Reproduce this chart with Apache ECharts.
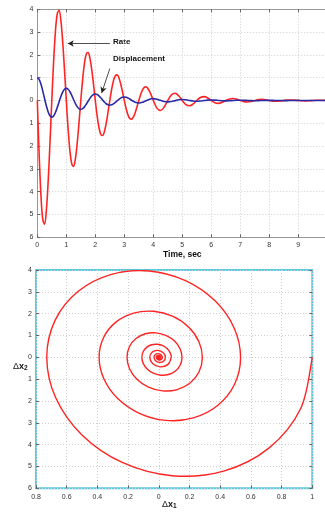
<!DOCTYPE html>
<html><head><meta charset="utf-8">
<script src="https://cdn.jsdelivr.net/npm/echarts@6/dist/echarts.min.js"></script>
<style>html,body{margin:0;padding:0;background:#fff}#c{width:325px;height:512px}</style>
</head><body><div id="c"></div>
<script>
// time samples (s)
const time = [0,0.0625,0.125,0.1875,0.25,0.3125,0.375,0.4375,0.5,0.5625,0.625,0.6875,0.75,0.8125,0.875,0.9375,
1,1.0625,1.125,1.1875,1.25,1.3125,1.375,1.4375,1.5,1.5625,1.625,1.6875,1.75,1.8125,1.875,1.9375,
2,2.0625,2.125,2.1875,2.25,2.3125,2.375,2.4375,2.5,2.5625,2.625,2.6875,2.75,2.8125,2.875,2.9375,
3,3.0625,3.125,3.1875,3.25,3.3125,3.375,3.4375,3.5,3.5625,3.625,3.6875,3.75,3.8125,3.875,3.9375,
4,4.125,4.25,4.375,4.5,4.625,4.75,4.875,5,5.125,5.25,5.375,5.5,5.625,5.75,5.875,
6,6.125,6.25,6.375,6.5,6.625,6.75,6.875,7,7.125,7.25,7.375,7.5,7.625,7.75,7.875,
8,8.125,8.25,8.375,8.5,8.625,8.75,8.875,9,9.125,9.25,9.375,9.5,9.625,9.75,9.875,10];
// displacement Δx1
const displacement = [1,0.9252,0.7191,0.4224,0.0857,-0.2382,-0.5024,-0.6723,-0.7298,-0.6751,-0.5248,-0.3083,-0.0625,0.1738,0.3666,0.4906,
0.5326,0.4927,0.3830,0.2250,0.0456,-0.1268,-0.2676,-0.3580,-0.3887,-0.3596,-0.2795,-0.1642,-0.0333,0.0926,0.1952,0.2613,
0.2837,0.2624,0.2040,0.1198,0.0243,-0.0676,-0.1425,-0.1906,-0.2070,-0.1915,-0.1488,-0.0875,-0.0177,0.0493,0.1040,0.1392,
0.1511,0.1397,0.1086,0.0638,0.0129,-0.0360,-0.0759,-0.1016,-0.1103,-0.1020,-0.0793,-0.0466,-0.0094,0.0262,0.0554,0.0741,
0.0805,0.0579,0.0069,-0.0405,-0.0587,-0.0422,-0.0050,0.0295,0.0429,0.0308,0.0037,-0.0216,-0.0313,-0.0225,-0.0027,0.0157,
0.0228,0.0164,0.0020,-0.0115,-0.0167,-0.0120,-0.0014,0.0084,0.0122,0.0087,0.0010,-0.0061,-0.0089,-0.0064,-0.0008,0.0045,
0.0065,0.0047,0.0006,-0.0032,-0.0047,-0.0034,-0.0004,0.0024,0.0035,0.0025,0.0003,-0.0017,-0.0025,-0.0018,-0.0002,0.0013,0.0018];
// rate Δx2
const rate = [0,-2.335,-4.148,-5.211,-5.422,-4.816,-3.544,-1.844,0,1.704,3.028,3.803,3.957,3.515,2.586,1.346,
0,-1.244,-2.209,-2.775,-2.888,-2.565,-1.888,-0.982,0,0.908,1.613,2.025,2.108,1.872,1.377,0.717,
0,-0.662,-1.177,-1.478,-1.538,-1.366,-1.005,-0.523,0,0.483,0.859,1.079,1.122,0.997,0.734,0.382,
0,-0.353,-0.627,-0.788,-0.819,-0.728,-0.535,-0.279,0,0.257,0.457,0.575,0.598,0.531,0.391,0.203,
0,-0.334,-0.437,-0.285,0,0.244,0.319,0.208,0,-0.178,-0.232,-0.152,0,0.130,0.169,0.111,
0,-0.095,-0.124,-0.081,0,0.069,0.090,0.059,0,-0.050,-0.066,-0.043,0,0.037,0.048,0.031,
0,-0.027,-0.035,-0.023,0,0.020,0.025,0.017,0,-0.014,-0.018,-0.012,0,0.010,0.013,0.009,0];

const topXLabels = ['0','1','2','3','4','5','6','7','8','9',''];
const topYLabels = ['6','5','4','3','2','1','0','1','2','3','4'];
const botXLabels = ['0.8','0.6','0.4','0.2','0','0.2','0.4','0.6','0.8','1'];
const botYLabels = ['6','5','4','3','2','1','0','1','2','3','4'];

const rateSeries = time.map((t,i)=>[t, rate[i]]);
const dispSeries = time.map((t,i)=>[t, displacement[i]]);
const phase = time.map((t,i)=>[displacement[i], rate[i]]);

const FONT = '"Liberation Sans", Arial, sans-serif';
const lab = {fontSize:7, color:'#333', fontFamily:FONT};
const split = {show:true, lineStyle:{color:'#cfcfcf', type:[1,2], width:1}};
const tick = {show:true, inside:true, length:3, lineStyle:{color:'#666'}};

// phase curve drawn through the cartesian scales (api.coord) as a Catmull-Rom path
function renderPhase(params, api) {
  if (params.dataIndex !== 0) return null;
  const pts = phase.map(p => api.coord(p));
  let d = 'M' + pts[0][0] + ' ' + pts[0][1];
  for (let i = 0; i < pts.length - 1; i++) {
    const p0 = pts[Math.max(i - 1, 0)], p1 = pts[i], p2 = pts[i + 1], p3 = pts[Math.min(i + 2, pts.length - 1)];
    const c1x = p1[0] + (p2[0] - p0[0]) / 6, c1y = p1[1] + (p2[1] - p0[1]) / 6;
    const c2x = p2[0] - (p3[0] - p1[0]) / 6, c2y = p2[1] - (p3[1] - p1[1]) / 6;
    d += ' C' + c1x + ' ' + c1y + ' ' + c2x + ' ' + c2y + ' ' + p2[0] + ' ' + p2[1];
  }
  return {type:'path', shape:{pathData:d}, style:{fill:'none', stroke:'#ff2424', lineWidth:1.4}};
}

const chart = echarts.init(document.getElementById('c'), null, {renderer:'canvas'});
chart.setOption({
  animation:false,
  backgroundColor:'#fff',
  grid:[
    {left:37.3, top:9.3, width:290, height:228, show:false, containLabel:false, outerBoundsMode:'none'},
    {left:36, top:270, width:276.3, height:218.3, show:true, borderColor:'#5ec8dc', borderWidth:2, containLabel:false, outerBoundsMode:'none'}
  ],
  xAxis:[
    {gridIndex:0, type:'value', min:0, max:10, interval:1,
     axisLine:{show:true, onZero:false, lineStyle:{color:'#999'}}, axisTick:tick,
     axisLabel:Object.assign({margin:4, formatter:v=>topXLabels[Math.round(v)]}, lab), splitLine:split},
    {gridIndex:1, type:'value', min:-0.8, max:1, interval:0.2,
     axisLine:{show:false, onZero:false}, axisTick:tick,
     axisLabel:Object.assign({margin:5, formatter:v=>botXLabels[Math.round((v+0.8)/0.2)]}, lab), splitLine:split},
    {gridIndex:0, type:'value', min:0, max:10, interval:1, position:'top',
     axisLine:{show:true, onZero:false, lineStyle:{color:'#999'}}, axisTick:tick,
     axisLabel:{show:false}, splitLine:{show:false}}
  ],
  yAxis:[
    {gridIndex:0, type:'value', min:-6, max:4, interval:1,
     axisLine:{show:true, onZero:false, lineStyle:{color:'#999'}}, axisTick:tick,
     axisLabel:Object.assign({margin:4, formatter:v=>topYLabels[Math.round(v+6)]}, lab), splitLine:split},
    {gridIndex:1, type:'value', min:-6, max:4, interval:1,
     axisLine:{show:false, onZero:false}, axisTick:tick,
     axisLabel:Object.assign({margin:4, formatter:v=>botYLabels[Math.round(v+6)]}, lab), splitLine:split},
    {gridIndex:1, type:'value', min:-6, max:4, interval:1, position:'right',
     axisLine:{show:false, onZero:false}, axisTick:tick,
     axisLabel:{show:false}, splitLine:{show:false}}
  ],
  series:[
    {type:'line', xAxisIndex:0, yAxisIndex:0, data:rateSeries, smooth:0.35, showSymbol:false, symbol:'none',
     lineStyle:{color:'#ff2424', width:1.6}, z:2,
     markLine:{silent:true, symbol:['none','arrow'], symbolSize:[5,6], label:{show:false},
       lineStyle:{color:'#222', width:0.8, type:'solid'},
       data:[[{coord:[2.5,2.5]},{coord:[1.05,2.5]}],[{coord:[2.5,1.4]},{coord:[2.22,0.33]}]]}},
    {type:'line', xAxisIndex:0, yAxisIndex:0, data:dispSeries, smooth:0.35, showSymbol:false, symbol:'none',
     lineStyle:{color:'#2a2aa8', width:1.6}, z:3},
    {type:'custom', xAxisIndex:1, yAxisIndex:1, data:phase, renderItem:renderPhase, z:3, clip:true}
  ],
  graphic:[
    {type:'text', left:113, top:38, style:{text:'Rate', fontSize:8, fontWeight:'bold', fill:'#111', fontFamily:FONT}},
    {type:'text', left:113, top:55, style:{text:'Displacement', fontSize:8, fontWeight:'bold', fill:'#111', fontFamily:FONT}},
    {type:'text', left:163, top:250, style:{text:'Time, sec', fontSize:8.5, fontWeight:'bold', fill:'#111', fontFamily:FONT}},
    {type:'text', left:13, top:362, style:{rich:{a:{fontSize:9, fill:'#111', fontFamily:FONT}, b:{fontSize:9, fontWeight:'bold', fill:'#111', fontFamily:FONT}, s:{fontSize:6.5, fontWeight:'bold', fill:'#111', fontFamily:FONT, padding:[4,0,0,0]}}, text:'{a|Δ}{b|x}{s|2}'}},
    {type:'text', left:162, top:500, style:{rich:{a:{fontSize:9, fill:'#111', fontFamily:FONT}, b:{fontSize:9, fontWeight:'bold', fill:'#111', fontFamily:FONT}, s:{fontSize:6.5, fontWeight:'bold', fill:'#111', fontFamily:FONT, padding:[4,0,0,0]}}, text:'{a|Δ}{b|x}{s|1}'}}
  ]
});
</script></body></html>
